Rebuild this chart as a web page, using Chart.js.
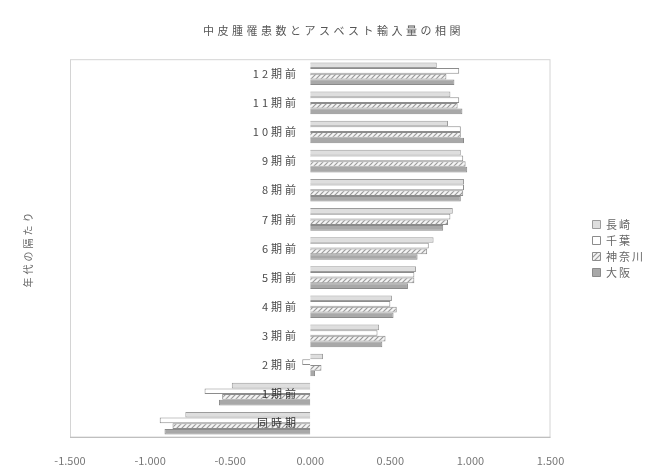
<!DOCTYPE html>
<html lang="ja">
<head>
<meta charset="utf-8">
<title>中皮腫罹患数とアスベスト輸入量の相関</title>
<script src="https://cdn.jsdelivr.net/npm/chart.js@4/dist/chart.umd.min.js"></script>
<style>
  html, body { margin: 0; padding: 0; background: #fff; }
  #wrap { width: 654px; height: 470px; }
</style>
</head>
<body>
<div id="wrap"><canvas id="corrChart" width="654" height="470"></canvas></div>
<script>
const labels = ["12期前", "11期前", "10期前", "9期前", "8期前", "7期前", "6期前", "5期前", "4期前", "3期前", "2期前", "1期前", "同時期"];
const nagasaki = [0.79, 0.875, 0.86, 0.94, 0.96, 0.89, 0.77, 0.66, 0.51, 0.43, 0.08, -0.49, -0.78];
const chiba    = [0.93, 0.93, 0.94, 0.955, 0.96, 0.875, 0.74, 0.65, 0.50, 0.42, -0.05, -0.66, -0.94];
const kanagawa = [0.85, 0.92, 0.94, 0.97, 0.955, 0.86, 0.73, 0.65, 0.54, 0.47, 0.07, -0.55, -0.86];
const osaka    = [0.90, 0.95, 0.96, 0.98, 0.94, 0.83, 0.67, 0.61, 0.52, 0.45, 0.03, -0.57, -0.91];
const xTicks = [-1.5, -1.0, -0.5, 0, 0.5, 1.0, 1.5];

const FONT = "'Noto Sans CJK JP', 'Noto Sans', sans-serif";

// diagonal hatch for 神奈川
function hatch() {
  const c = document.createElement("canvas");
  c.width = 5; c.height = 5;
  const g = c.getContext("2d");
  g.fillStyle = "#f4f4f4";
  g.fillRect(0, 0, 5, 5);
  g.strokeStyle = "#9a9a9a";
  g.lineWidth = 1.2;
  g.beginPath();
  g.moveTo(0, 5); g.lineTo(5, 0);
  g.moveTo(-1, 1); g.lineTo(1, -1);
  g.moveTo(4, 6); g.lineTo(6, 4);
  g.stroke();
  return g.createPattern(c, "repeat");
}

// light frame round the plot area
const frame = {
  id: "frame",
  beforeDatasetsDraw(chart) {
    const { ctx, chartArea: a } = chart;
    ctx.save();
    ctx.strokeStyle = "#d4d4d4";
    ctx.lineWidth = 1;
    ctx.strokeRect(a.left + 0.5, a.top + 0.5, a.width - 1, a.height - 1);
    ctx.strokeStyle = "#b8b8b8";
    ctx.beginPath();
    ctx.moveTo(a.left, a.bottom - 0.5);
    ctx.lineTo(a.right, a.bottom - 0.5);
    ctx.stroke();
    ctx.restore();
  }
};

// wider letter spacing for the titles, category labels and legend
const spacing = {
  id: "spacing",
  beforeDraw(chart) {
    if (chart.$spaced) return;
    chart.$spaced = true;
    const wrap = (obj, fn, px) => {
      const orig = obj[fn];
      obj[fn] = function (...args) {
        const c = chart.ctx;
        const prev = c.letterSpacing;
        c.letterSpacing = px;
        orig.apply(this, args);
        c.letterSpacing = prev;
      };
    };
    wrap(chart.titleBlock, "draw", "3.5px");
    wrap(chart.legend, "draw", "2px");
    wrap(chart.scales.y, "drawLabels", "3px");
    wrap(chart.scales.yTitle, "drawTitle", "3px");
  }
};

const ctx = document.getElementById("corrChart").getContext("2d");
const bar = (label, data, fill, border) => ({
  label, data, backgroundColor: fill, borderColor: border, borderWidth: 1,
  yAxisID: "y"
});

new Chart(ctx, {
  type: "bar",
  data: {
    labels,
    datasets: [
      bar("長崎", nagasaki, "#dedede", "#9c9c9c"),
      bar("千葉", chiba, "#ffffff", "#8c8c8c"),
      bar("神奈川", kanagawa, hatch(), "#8c8c8c"),
      bar("大阪", osaka, "#a8a8a8", "#8a8a8a")
    ]
  },
  options: {
    indexAxis: "y",
    responsive: false,
    animation: false,
    categoryPercentage: 0.78,
    barPercentage: 1.0,
    layout: { padding: { left: 18, right: 5, top: 0, bottom: -13 } },
    scales: {
      x: {
        min: -1.5, max: 1.5,
        afterBuildTicks: (s) => { s.ticks = xTicks.map((v) => ({ value: v })); },
        grid: { display: false, drawTicks: false },
        border: { display: false },
        ticks: {
          padding: 16, color: "#777",
          font: { family: FONT, size: 11 },
          callback: (v) => Number(v).toFixed(3)
        }
      },
      y: {
        type: "category",
        position: { x: -0.07 },
        grid: { display: false, drawTicks: false },
        border: { display: false },
        ticks: {
          z: 1, // labels go over the negative bars
          autoSkip: false,
          color: (c) => (c.index >= 11 ? "#333" : "#4a4a4a"),
          font: { family: FONT, size: 11 }
        }
      },
      yTitle: {
        type: "category",
        labels,
        position: "left",
        grid: { display: false, drawTicks: false },
        border: { display: false },
        ticks: { display: false },
        afterFit: (s) => { s.width = 52; },
        title: {
          display: true, text: "年代の隔たり", color: "#666",
          font: { family: FONT, size: 10 }, padding: { top: 4, bottom: 0 }
        }
      },
      yGap: {
        type: "category",
        labels,
        position: "right",
        grid: { display: false, drawTicks: false },
        border: { display: false },
        ticks: { display: false },
        afterFit: (s) => { s.width = 37; }
      }
    },
    plugins: {
      title: {
        display: true,
        text: "中皮腫罹患数とアスベスト輸入量の相関",
        color: "#555",
        font: { family: FONT, size: 11, weight: "normal" },
        padding: { top: 24, bottom: 22 }
      },
      legend: {
        position: "right",
        fullSize: false,
        labels: {
          boxWidth: 8, boxHeight: 8, padding: 5, color: "#666",
          font: { family: FONT, size: 11 }
        }
      },
      tooltip: { enabled: false }
    }
  },
  plugins: [frame, spacing]
});
</script>
</body>
</html>
